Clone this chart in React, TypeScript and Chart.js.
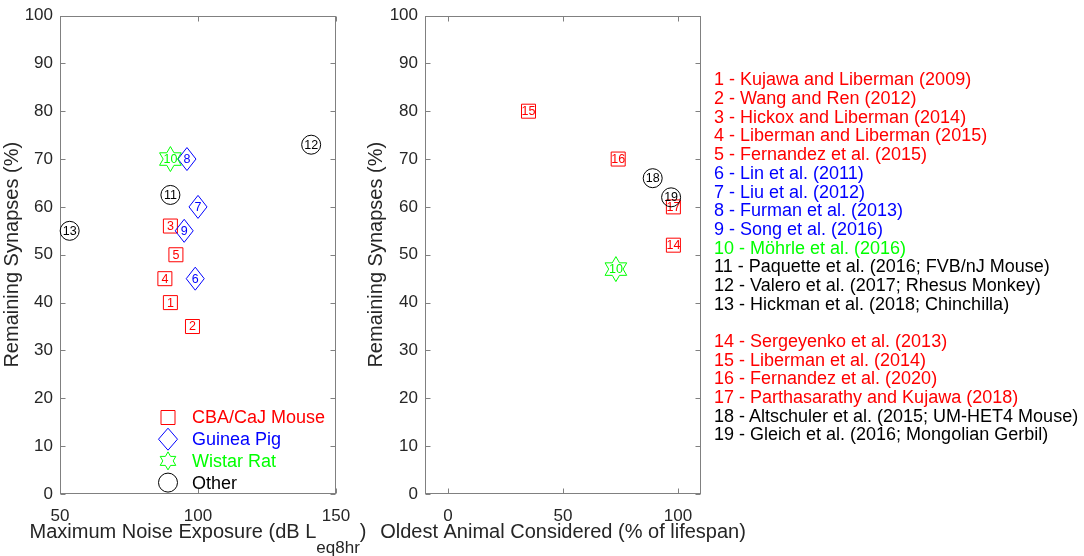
import React, { useEffect, useRef } from "react";
import { Chart, ScatterController, LinearScale, PointElement, Plugin } from "chart.js";

Chart.register(ScatterController, LinearScale, PointElement);

const FONT = "'Liberation Sans', Arial, Helvetica, sans-serif";
const INK = "#262626";
const FRAME = "#808080";
const RED = "#ff0000";
const BLUE = "#0000ff";
const GREEN = "#00ff00";
const BLACK = "#000000";

// left panel: remaining synapses vs. maximum noise exposure
const noiseStudies = [1, 2, 3, 4, 5, 6, 7, 8, 9, 10, 11, 12, 13];
const noiseLevels = [90, 98, 90, 88, 92, 99, 100, 96, 95, 90, 90, 141, 53.5];
const noiseSynapses = [40, 35, 56, 45, 50, 45, 60, 70, 55, 70, 62.5, 73, 55];
const noiseSpecies = ["mouse", "mouse", "mouse", "mouse", "mouse", "pig", "pig", "pig", "pig", "rat", "other", "other", "other"];

// right panel: remaining synapses vs. oldest animal (% of lifespan)
const ageStudies = [10, 14, 15, 16, 17, 18, 19];
const ageLifespan = [73, 98, 35, 74, 98, 89, 97];
const ageSynapses = [47, 52, 80, 70, 60, 66, 62];
const ageSpecies = ["rat", "mouse", "mouse", "mouse", "mouse", "other", "other"];

const synapseTicks = [0, 10, 20, 30, 40, 50, 60, 70, 80, 90, 100];
const noiseTicks = [50, 100, 150];
const ageTicks = [0, 50, 100];

const speciesKeys = ["mouse", "pig", "rat", "other"];
const speciesNames = ["CBA/CaJ Mouse", "Guinea Pig", "Wistar Rat", "Other"];
const speciesColors = [RED, BLUE, GREEN, BLACK];
const speciesShapes = ["square", "diamond", "hexagram", "circle"];

const studyLabels = [
  "1 - Kujawa and Liberman (2009)",
  "2 - Wang and Ren (2012)",
  "3 - Hickox and Liberman (2014)",
  "4 - Liberman and Liberman (2015)",
  "5 - Fernandez et al. (2015)",
  "6 - Lin et al. (2011)",
  "7 - Liu et al. (2012)",
  "8 - Furman et al. (2013)",
  "9 - Song et al. (2016)",
  "10 - Möhrle et al. (2016)",
  "11 - Paquette et al. (2016; FVB/nJ Mouse)",
  "12 - Valero et al. (2017; Rhesus Monkey)",
  "13 - Hickman et al. (2018; Chinchilla)",
  "14 - Sergeyenko et al. (2013)",
  "15 - Liberman et al. (2014)",
  "16 - Fernandez et al. (2020)",
  "17 - Parthasarathy and Kujawa (2018)",
  "18 - Altschuler et al. (2015; UM-HET4 Mouse)",
  "19 - Gleich et al. (2016; Mongolian Gerbil)",
];
const studySpecies = [
  "mouse", "mouse", "mouse", "mouse", "mouse", "pig", "pig", "pig", "pig", "rat",
  "other", "other", "other", "mouse", "mouse", "mouse", "mouse", "other", "other",
];

function traceShape(ctx: CanvasRenderingContext2D, shape: string, x: number, y: number, inKey: boolean) {
  ctx.beginPath();
  if (shape === "square") {
    const h = 7;
    ctx.rect(x - h, y - h, 2 * h, 2 * h);
  } else if (shape === "diamond") {
    const w = inKey ? 9.5 : 9;
    const h = inKey ? 11 : 11.5;
    ctx.moveTo(x, y - h);
    ctx.lineTo(x + w, y);
    ctx.lineTo(x, y + h);
    ctx.lineTo(x - w, y);
    ctx.closePath();
  } else if (shape === "hexagram") {
    const R = inKey ? 9 : 12.5;
    const r = R / Math.sqrt(3);
    for (let k = 0; k < 12; k++) {
      const ang = -Math.PI / 2 + (k * Math.PI) / 6;
      const rad = k % 2 === 0 ? R : r;
      const px = x + rad * Math.cos(ang);
      const py = y + rad * Math.sin(ang);
      if (k === 0) ctx.moveTo(px, py);
      else ctx.lineTo(px, py);
    }
    ctx.closePath();
  } else {
    ctx.arc(x, y, 9.5, 0, Math.PI * 2);
  }
  ctx.stroke();
}

const frameTicks: Plugin = {
  id: "frameTicks",
  beforeDatasetsDraw(chart) {
    const { ctx, chartArea: a, scales } = chart;
    const L = Math.round(a.left) + 0.5;
    const R = Math.round(a.right) - 0.5;
    const T = Math.round(a.top) + 0.5;
    const B = Math.round(a.bottom) - 0.5;
    ctx.save();
    ctx.strokeStyle = FRAME;
    ctx.lineWidth = 1;
    ctx.strokeRect(L, T, R - L, B - T);
    ctx.beginPath();
    scales.x.ticks.forEach((t) => {
      const px = Math.round(scales.x.getPixelForValue(t.value)) + 0.5;
      ctx.moveTo(px, B);
      ctx.lineTo(px, B - 5);
      ctx.moveTo(px, T);
      ctx.lineTo(px, T + 5);
    });
    scales.y.ticks.forEach((t) => {
      const py = Math.round(scales.y.getPixelForValue(t.value)) + 0.5;
      ctx.moveTo(L, py);
      ctx.lineTo(L + 5, py);
      ctx.moveTo(R, py);
      ctx.lineTo(R - 5, py);
    });
    ctx.stroke();
    ctx.restore();
  },
};

const studyMarks: Plugin = {
  id: "studyMarks",
  afterDatasetsDraw(chart) {
    const { ctx } = chart;
    ctx.save();
    ctx.lineWidth = 1;
    ctx.font = `12.5px ${FONT}`;
    ctx.textAlign = "center";
    ctx.textBaseline = "middle";
    chart.data.datasets.forEach((ds: any, i) => {
      const k = ds.speciesIndex;
      const meta = chart.getDatasetMeta(i);
      meta.data.forEach((pt: any, j) => {
        ctx.strokeStyle = speciesColors[k];
        ctx.fillStyle = speciesColors[k];
        traceShape(ctx, speciesShapes[k], pt.x, pt.y, false);
        ctx.fillText(String(ds.data[j].study), pt.x, pt.y + 0.5);
      });
    });
    ctx.restore();
  },
};

const speciesKey: Plugin = {
  id: "speciesKey",
  afterDraw(chart, _args, opts: any) {
    if (!opts || !opts.show) return;
    const { ctx, chartArea: a } = chart;
    ctx.save();
    ctx.lineWidth = 1;
    ctx.font = `18px ${FONT}`;
    ctx.textAlign = "left";
    ctx.textBaseline = "middle";
    speciesKeys.forEach((_key, k) => {
      const cy = a.top + 402 + k * 21.7;
      ctx.strokeStyle = speciesColors[k];
      ctx.fillStyle = speciesColors[k];
      traceShape(ctx, speciesShapes[k], a.left + 108, cy, true);
      ctx.fillText(speciesNames[k], a.left + 132, cy + 1);
    });
    ctx.restore();
  },
};

const xCaption: Plugin = {
  id: "xCaption",
  afterDraw(chart, _args, opts: any) {
    if (!opts || !opts.parts) return;
    const { ctx, chartArea: a } = chart;
    const base = chart.height - 18.5;
    ctx.save();
    ctx.fillStyle = INK;
    ctx.textBaseline = "alphabetic";
    ctx.textAlign = "left";
    const widths = opts.parts.map((p: any) => {
      ctx.font = `${p.sub ? 17 : 20}px ${FONT}`;
      return ctx.measureText(p.text).width;
    });
    const total = widths.reduce((s: number, w: number) => s + w, 0);
    let x = (a.left + a.right) / 2 - total / 2;
    opts.parts.forEach((p: any, i: number) => {
      ctx.font = `${p.sub ? 17 : 20}px ${FONT}`;
      ctx.fillText(p.text, x, p.sub ? base + 15 : base);
      x += widths[i];
    });
    ctx.restore();
  },
};

function buildDatasets(xs: number[], ys: number[], studies: number[], species: string[]) {
  return speciesKeys
    .map((key, k) => ({
      label: speciesNames[k],
      speciesIndex: k,
      data: xs
        .map((x, i) => ({ x, y: ys[i], study: studies[i], key: species[i] }))
        .filter((p) => p.key === key),
      pointRadius: 0,
      pointHoverRadius: 0,
    }))
    .filter((ds) => ds.data.length > 0);
}

interface PanelProps {
  xs: number[];
  ys: number[];
  studies: number[];
  species: string[];
  xMin: number;
  xMax: number;
  xTicks: number[];
  caption: { text: string; sub?: boolean }[];
  axisWidth: number;
  titlePad: number;
  rightPad: number;
  showKey: boolean;
  left: number;
  width: number;
}

const Panel: React.FC<PanelProps> = (p) => {
  const canvasRef = useRef<HTMLCanvasElement>(null);

  useEffect(() => {
    if (!canvasRef.current) return;
    const chart = new Chart(canvasRef.current, {
      type: "scatter",
      data: { datasets: buildDatasets(p.xs, p.ys, p.studies, p.species) as any },
      options: {
        animation: false,
        responsive: true,
        maintainAspectRatio: false,
        events: [],
        layout: { padding: { top: 9, right: p.rightPad, bottom: 0, left: 0 } },
        plugins: {
          legend: { display: false },
          tooltip: { enabled: false },
          speciesKey: { show: p.showKey },
          xCaption: { parts: p.caption },
        } as any,
        scales: {
          x: {
            type: "linear",
            min: p.xMin,
            max: p.xMax,
            grid: { display: false, drawTicks: false },
            border: { display: false },
            ticks: { color: INK, font: { family: FONT, size: 17, lineHeight: 1 }, padding: 14 },
            afterBuildTicks: (s: any) => {
              s.ticks = p.xTicks.map((v) => ({ value: v }));
            },
            afterFit: (s: any) => {
              s.height = 62;
            },
          },
          y: {
            type: "linear",
            min: 0,
            max: 100,
            grid: { display: false, drawTicks: false },
            border: { display: false },
            ticks: { color: INK, font: { family: FONT, size: 17, lineHeight: 1 }, padding: 7 },
            title: {
              display: true,
              text: "Remaining Synapses (%)",
              color: INK,
              font: { family: FONT, size: 20, lineHeight: 1.2 },
              padding: { top: p.titlePad, bottom: 0 },
            },
            afterBuildTicks: (s: any) => {
              s.ticks = synapseTicks.map((v) => ({ value: v }));
            },
            afterFit: (s: any) => {
              s.width = p.axisWidth;
            },
          },
        },
      },
      plugins: [frameTicks, studyMarks, speciesKey, xCaption],
    });
    return () => chart.destroy();
  }, []);

  return (
    <div style={{ position: "absolute", left: p.left, top: 0, width: p.width, height: 556 }}>
      <canvas ref={canvasRef} />
    </div>
  );
};

const StudyList: React.FC = () => {
  const rows: React.ReactNode[] = [];
  studyLabels.forEach((label, i) => {
    if (i === 13) rows.push(<div key="gap" style={{ height: "18.7px" }} />);
    const k = speciesKeys.indexOf(studySpecies[i]);
    rows.push(
      <div key={label} style={{ color: speciesColors[k], height: "18.7px", whiteSpace: "nowrap" }}>
        {label}
      </div>
    );
  });
  return (
    <div
      style={{
        position: "absolute",
        left: 714,
        top: 70.4,
        fontFamily: FONT,
        fontSize: 18,
        lineHeight: "18.7px",
      }}
    >
      {rows}
    </div>
  );
};

export default function App() {
  return (
    <div
      style={{
        position: "absolute",
        left: 0,
        top: 0,
        width: 1084,
        height: 556,
        background: "#ffffff",
        overflow: "hidden",
      }}
    >
      <Panel
        xs={noiseLevels}
        ys={noiseSynapses}
        studies={noiseStudies}
        species={noiseSpecies}
        xMin={50}
        xMax={150}
        xTicks={noiseTicks}
        caption={[{ text: "Maximum Noise Exposure (dB L" }, { text: "eq8hr", sub: true }, { text: ")" }]}
        axisWidth={60}
        titlePad={0}
        rightPad={44}
        showKey={true}
        left={0}
        width={380}
      />
      <Panel
        xs={ageLifespan}
        ys={ageSynapses}
        studies={ageStudies}
        species={ageSpecies}
        xMin={-10}
        xMax={110}
        xTicks={ageTicks}
        caption={[{ text: "Oldest Animal Considered (% of lifespan)" }]}
        axisWidth={65}
        titlePad={4}
        rightPad={59}
        showKey={false}
        left={360}
        width={400}
      />
      <StudyList />
    </div>
  );
}
